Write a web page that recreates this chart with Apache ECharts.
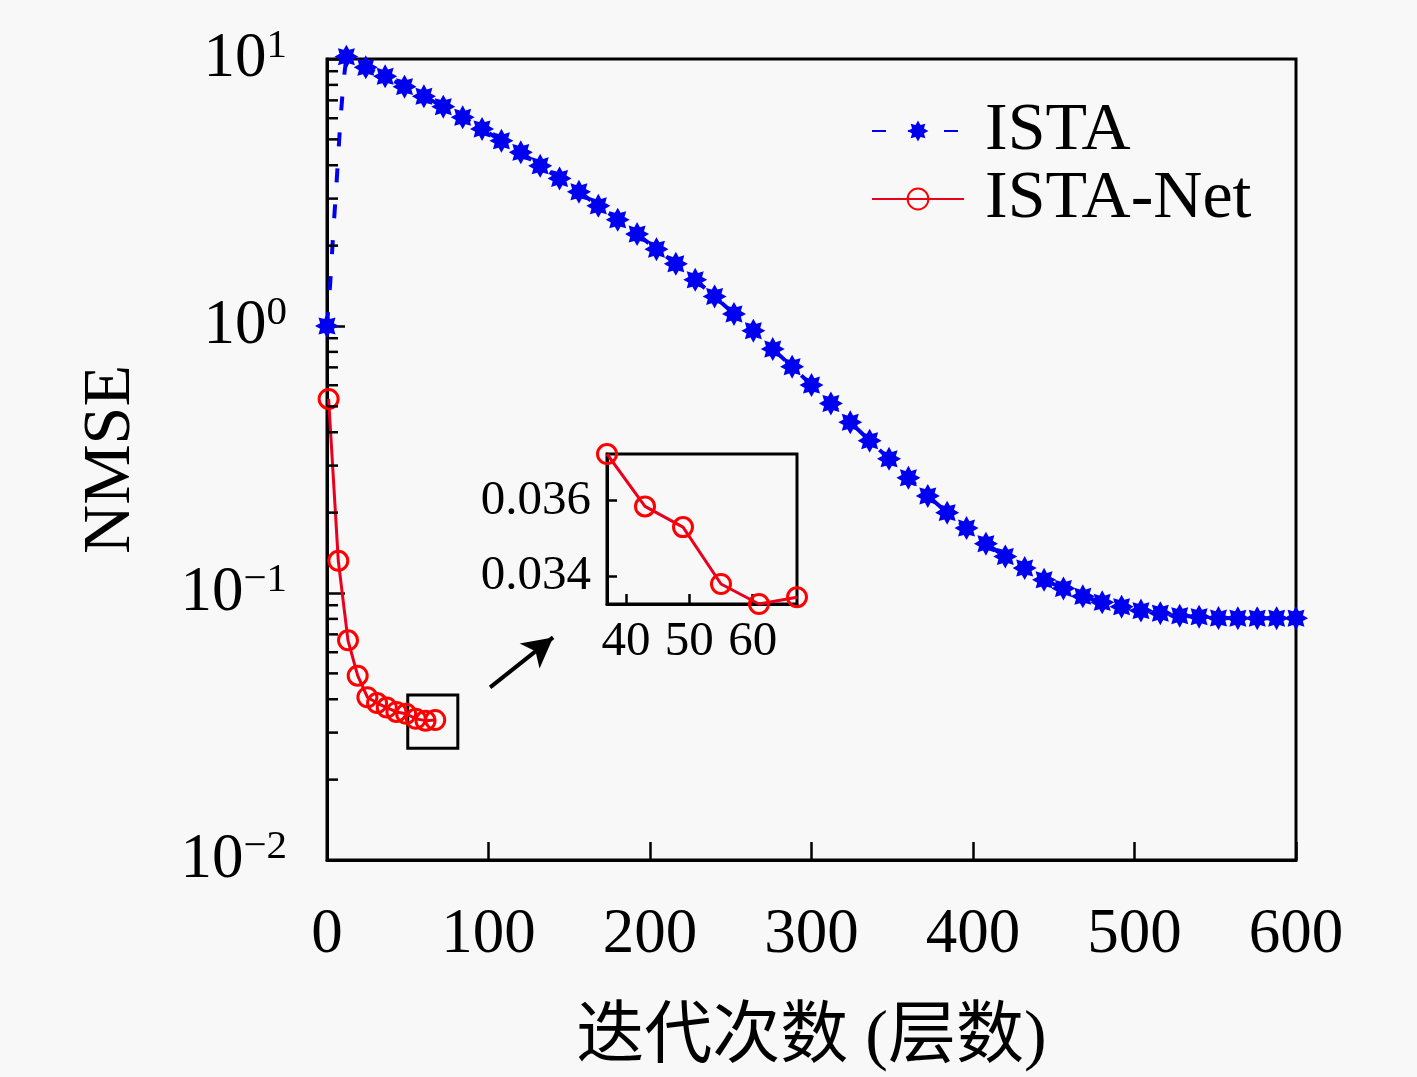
<!DOCTYPE html>
<html>
<head>
<meta charset="utf-8">
<script src="https://cdn.jsdelivr.net/npm/echarts@6/dist/echarts.min.js"></script>
<style>
  html, body { margin: 0; background: #f8f8f8; }
  #chart { width: 1417px; height: 1077px; }
</style>
</head>
<body>
<div id="chart"></div>
<script>
// ISTA: markers every 12 iterations
var istaIter = [0, 12, 24, 36, 48, 60, 72, 84, 96, 108, 120, 132, 144, 156, 168, 180, 192,
  204, 216, 228, 240, 252, 264, 276, 288, 300, 312, 324, 336, 348, 360, 372, 384, 396,
  408, 420, 432, 444, 456, 468, 480, 492, 504, 516, 528, 540, 552, 564, 576, 588, 600];
var istaNmse = [1.0, 10.2, 9.31, 8.61, 7.88, 7.25, 6.63, 6.05, 5.47, 4.94, 4.47, 3.98, 3.57,
  3.18, 2.82, 2.50, 2.21, 1.94, 1.71, 1.49, 1.29, 1.11, 0.96, 0.82, 0.704, 0.601, 0.513,
  0.436, 0.372, 0.318, 0.270, 0.231, 0.200, 0.175, 0.153, 0.137, 0.124, 0.112, 0.104,
  0.0972, 0.0923, 0.0889, 0.0859, 0.0840, 0.0822, 0.0815, 0.0806, 0.0805, 0.0805, 0.0805, 0.0805];
// first iterations (line only, no marker)
var istaRiseIter = [2, 4, 6, 8, 10];
var istaRiseNmse = [1.45, 2.3, 3.5, 5.5, 8.0];

// ISTA-Net layers
var netIter = [1, 7, 13, 19, 25, 31, 37, 43, 49, 55, 61, 67];
var netNmse = [0.533, 0.132, 0.0665, 0.049, 0.0407, 0.0387, 0.03724, 0.03585, 0.0353, 0.03379, 0.03326, 0.03344];

var yMinorTicks = [0.02, 0.03, 0.04, 0.05, 0.06, 0.07, 0.08, 0.09,
  0.2, 0.3, 0.4, 0.5, 0.6, 0.7, 0.8, 0.9, 2, 3, 4, 5, 6, 7, 8, 9];
var insetXTicks = [40, 50, 60];
var insetYTicks = [0.034, 0.036];
var insetFrom = 37;
var zoomBox = [[50, 0.0415], [81, 0.0262]];
var arrowEnds = [[101, 0.0443], [140, 0.0682]];

var FONT = "'Liberation Serif', 'Noto Sans CJK SC', serif";

function starPath(n, rIn) {
  var d = '';
  for (var i = 0; i < 2 * n; i++) {
    var a = Math.PI * i / n - Math.PI / 2;
    var r = i % 2 ? rIn : 1;
    d += (i ? 'L' : 'M') + (r * Math.cos(a)).toFixed(3) + ' ' + (r * Math.sin(a)).toFixed(3);
  }
  return 'path://' + d + 'Z';
}
var STAR = starPath(8, 0.62);

var istaData = [];
istaIter.forEach(function (x, i) { istaData.push({ value: [x, istaNmse[i]] }); });
istaRiseIter.forEach(function (x, i) {
  istaData.push({ value: [x, istaRiseNmse[i]], symbol: 'none' });
});
istaData.sort(function (a, b) { return a.value[0] - b.value[0]; });

var netData = netIter.map(function (x, i) { return [x, netNmse[i]]; });
var insetData = netData.filter(function (p) { return p[0] >= insetFrom; });

var chart = echarts.init(document.getElementById('chart'));
chart.setOption({
  backgroundColor: '#f8f8f8',
  animation: false,
  textStyle: { fontFamily: FONT, color: '#000' },
  grid: [
    { left: 327, right: 121, top: 59, bottom: 217, outerBoundsMode: 'none', show: true, borderColor: '#000', borderWidth: 3, backgroundColor: 'transparent' },
    { left: 607, top: 454, width: 190, height: 150, outerBoundsMode: 'none', show: true, borderColor: '#000', borderWidth: 3, backgroundColor: 'transparent' }
  ],
  legend: {
    orient: 'vertical',
    left: 866,
    top: 92,
    itemWidth: 92,
    itemHeight: 26,
    itemGap: 0,
    data: ['ISTA', 'ISTA-Net'],
    textStyle: { fontSize: 68, fontFamily: FONT, color: '#000', padding: [0, 0, 0, 16] }
  },
  xAxis: [
    {
      gridIndex: 0, type: 'value', min: 0, max: 600, interval: 100,
      name: '迭代次数 (层数)', nameLocation: 'middle', nameGap: 145,
      nameTextStyle: { fontSize: 68, fontFamily: FONT, color: '#000' },
      axisLine: { lineStyle: { color: '#000', width: 3 } },
      axisTick: { inside: true, length: 18, lineStyle: { color: '#000', width: 2.5 } },
      axisLabel: { fontSize: 63, fontFamily: FONT, color: '#000', margin: 44 },
      splitLine: { show: false }
    },
    {
      gridIndex: 1, type: 'value', min: insetFrom, max: 67,
      axisLine: { lineStyle: { color: '#000', width: 3 } },
      axisTick: { inside: true, length: 10, customValues: insetXTicks, lineStyle: { color: '#000', width: 2.5 } },
      axisLabel: { fontSize: 49, fontFamily: FONT, color: '#000', margin: 14, customValues: insetXTicks },
      splitLine: { show: false }
    }
  ],
  yAxis: [
    {
      gridIndex: 0, type: 'log', logBase: 10, min: 0.01, max: 10,
      name: 'NMSE', nameLocation: 'middle', nameGap: 182, nameRotate: 90,
      nameTextStyle: { fontSize: 68, fontFamily: FONT, color: '#000' },
      axisLine: { lineStyle: { color: '#000', width: 3 } },
      axisTick: { inside: true, length: 18, lineStyle: { color: '#000', width: 2.5 } },
      splitLine: { show: false },
      axisLabel: {
        margin: 40,
        formatter: function (v) {
          var e = Math.round(Math.log10(v));
          return '{b|10}{s|' + (e < 0 ? '−' + (-e) : e) + '}';
        },
        rich: {
          b: { fontSize: 63, fontFamily: FONT, color: '#000', lineHeight: 66 },
          s: { fontSize: 41, fontFamily: FONT, color: '#000', verticalAlign: 'top', lineHeight: 66 }
        }
      }
    },
    {
      gridIndex: 1, type: 'value', min: 'dataMin', max: 'dataMax',
      axisLine: { lineStyle: { color: '#000', width: 3 } },
      axisTick: { inside: true, length: 10, customValues: insetYTicks, lineStyle: { color: '#000', width: 2.5 } },
      axisLabel: {
        fontSize: 49, fontFamily: FONT, color: '#000', margin: 16, customValues: insetYTicks,
        formatter: function (v) { return v.toFixed(3); }
      },
      splitLine: { show: false }
    }
  ],
  series: [
    {
      name: 'ISTA', type: 'line', xAxisIndex: 0, yAxisIndex: 0,
      data: istaData, symbol: STAR, symbolSize: 24, showAllSymbol: true, clip: false,
      itemStyle: { color: '#0000f0' },
      lineStyle: { color: '#0000f0', width: 4, type: [14, 22] },
      z: 3
    },
    {
      name: 'ISTA-Net', type: 'line', xAxisIndex: 0, yAxisIndex: 0,
      data: netData, symbol: 'circle', symbolSize: 19, showAllSymbol: true, clip: false,
      itemStyle: { color: 'rgba(0,0,0,0)', borderColor: '#ff0000', borderWidth: 3 },
      lineStyle: { color: '#e8001c', width: 3 },
      markArea: {
        silent: true,
        itemStyle: { color: 'rgba(0,0,0,0)', borderColor: '#000', borderWidth: 3 },
        data: [[{ coord: zoomBox[0] }, { coord: zoomBox[1] }]]
      },
      markLine: {
        silent: true, animation: false,
        symbol: ['none', 'arrow'], symbolSize: [24, 30],
        label: { show: false },
        lineStyle: { color: '#000', width: 4, type: 'solid' },
        data: [[{ coord: arrowEnds[0] }, { coord: arrowEnds[1] }]]
      },
      z: 4
    },
    {
      name: 'inset', type: 'line', xAxisIndex: 1, yAxisIndex: 1,
      data: insetData, symbol: 'circle', symbolSize: 19, clip: false,
      itemStyle: { color: 'rgba(0,0,0,0)', borderColor: '#ff0000', borderWidth: 3 },
      lineStyle: { color: '#e8001c', width: 3 },
      z: 4
    },
    {
      name: 'minorTicks', type: 'custom', xAxisIndex: 0, yAxisIndex: 0,
      data: yMinorTicks.map(function (v) { return [0, v]; }),
      silent: true, clip: false,
      renderItem: function (params, api) {
        var p = api.coord([0, api.value(1)]);
        return {
          type: 'line',
          shape: { x1: p[0], y1: p[1], x2: p[0] + 11, y2: p[1] },
          style: { stroke: '#000', lineWidth: 2.5 }
        };
      },
      z: 5
    }
  ]
});
</script>
</body>
</html>
